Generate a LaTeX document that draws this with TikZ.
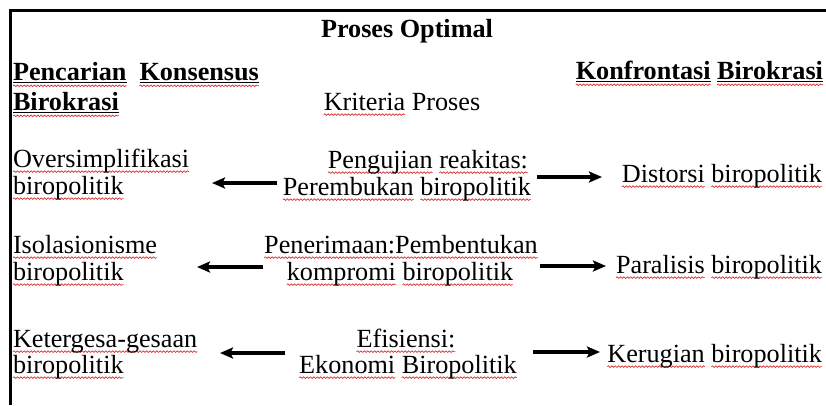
\documentclass[tikz,border=0pt]{standalone}
\usepackage{fontspec}
\setmainfont{Liberation Serif}
\usetikzlibrary{arrows.meta,decorations.pathmorphing}
\definecolor{wavered}{RGB}{215,45,45}
\newsavebox\sqbox
\newsavebox\hdbox
\tikzset{wavy/.style={wavered, line width=0.7pt, decorate,
  decoration={snake, amplitude=0.8pt, segment length=3.4pt}}}
\newcommand\sq[1]{\leavevmode\sbox\sqbox{#1}\rlap{\tikz[baseline=0pt,overlay]\draw[wavy] (0pt,-4.6pt) -- (\wd\sqbox,-4.6pt);}\usebox\sqbox}
\newcommand\hd[1]{\leavevmode\sbox\hdbox{\bfseries #1}\rlap{\rule[-3pt]{\wd\hdbox}{1.5pt}}\rlap{\tikz[baseline=0pt,overlay]\draw[wavy] (0pt,-5.8pt) -- (\wd\hdbox,-5.8pt);}\usebox\hdbox}
\begin{document}
\begin{tikzpicture}[x=1pt,y=-1pt,
  txt/.style={inner sep=0pt, outer sep=0pt, font=\fontsize{26.2}{28}\selectfont},
  conn/.style={line width=3.2pt, -{Stealth[length=13pt,width=11pt,inset=2.5pt]}},
  frame/.style={line width=3pt, line join=miter}]
\useasboundingbox (0,0) rectangle (826,405);
\draw[frame] (826,10) -- (10,10) -- (10,405);

% headings
\node[txt, anchor=base] (title) at (407,37) {\bfseries Proses Optimal};
\node[txt, anchor=base west] (lh1) at (13,80) {\hd{Pencarian}\hspace{13pt}\hd{Konsensus}};
\node[txt, anchor=base west] (lh2) at (13,110) {\hd{Birokrasi}};
\node[txt, anchor=base east] (rh) at (823,79) {\hd{Konfrontasi} \hd{Birokrasi}};
\node[txt, anchor=base] (kp) at (402,110) {\sq{Kriteria} Proses};

% row 1
\node[txt, anchor=base west] (l1a) at (13,167) {\sq{Oversimplifikasi}};
\node[txt, anchor=base west] (l1b) at (13,194) {\sq{biropolitik}};
\node[txt, anchor=base east] (c1a) at (528,168) {\sq{Pengujian} \sq{reakitas:}};
\node[txt, anchor=base east] (c1b) at (531,195) {\sq{Perembukan} \sq{biropolitik}};
\node[txt, anchor=base east] (r1) at (822,182) {\sq{Distorsi} \sq{biropolitik}};

% row 2
\node[txt, anchor=base west] (l2a) at (13,253) {\sq{Isolasionisme}};
\node[txt, anchor=base west] (l2b) at (13,280) {\sq{biropolitik}};
\node[txt, anchor=base] (c2a) at (401,253) {\sq{Penerimaan:Pembentukan}};
\node[txt, anchor=base] (c2b) at (400,280) {\sq{kompromi} \sq{biropolitik}};
\node[txt, anchor=base east] (r2) at (822,273) {\sq{Paralisis} \sq{biropolitik}};

% row 3
\node[txt, anchor=base west] (l3a) at (13,347) {\sq{Ketergesa-gesaan}};
\node[txt, anchor=base west] (l3b) at (13,373) {\sq{biropolitik}};
\node[txt, anchor=base] (c3a) at (406,347) {\sq{Efisiensi:}};
\node[txt, anchor=base] (c3b) at (408,373) {\sq{Ekonomi} \sq{Biropolitik}};
\node[txt, anchor=base east] (r3) at (822,362) {\sq{Kerugian} \sq{biropolitik}};

% arrow end points
\coordinate (a1s) at (277,183); \coordinate (a1e) at (212,183);
\coordinate (b1s) at (537,177); \coordinate (b1e) at (602,177);
\coordinate (a2s) at (263,267); \coordinate (a2e) at (197,267);
\coordinate (b2s) at (540,266); \coordinate (b2e) at (606,266);
\coordinate (a3s) at (285,353); \coordinate (a3e) at (220,353);
\coordinate (b3s) at (533,352); \coordinate (b3e) at (600,352);

\draw[conn] (a1s) -- (a1e);
\draw[conn] (b1s) -- (b1e);
\draw[conn] (a2s) -- (a2e);
\draw[conn] (b2s) -- (b2e);
\draw[conn] (a3s) -- (a3e);
\draw[conn] (b3s) -- (b3e);
\end{tikzpicture}
\end{document}
